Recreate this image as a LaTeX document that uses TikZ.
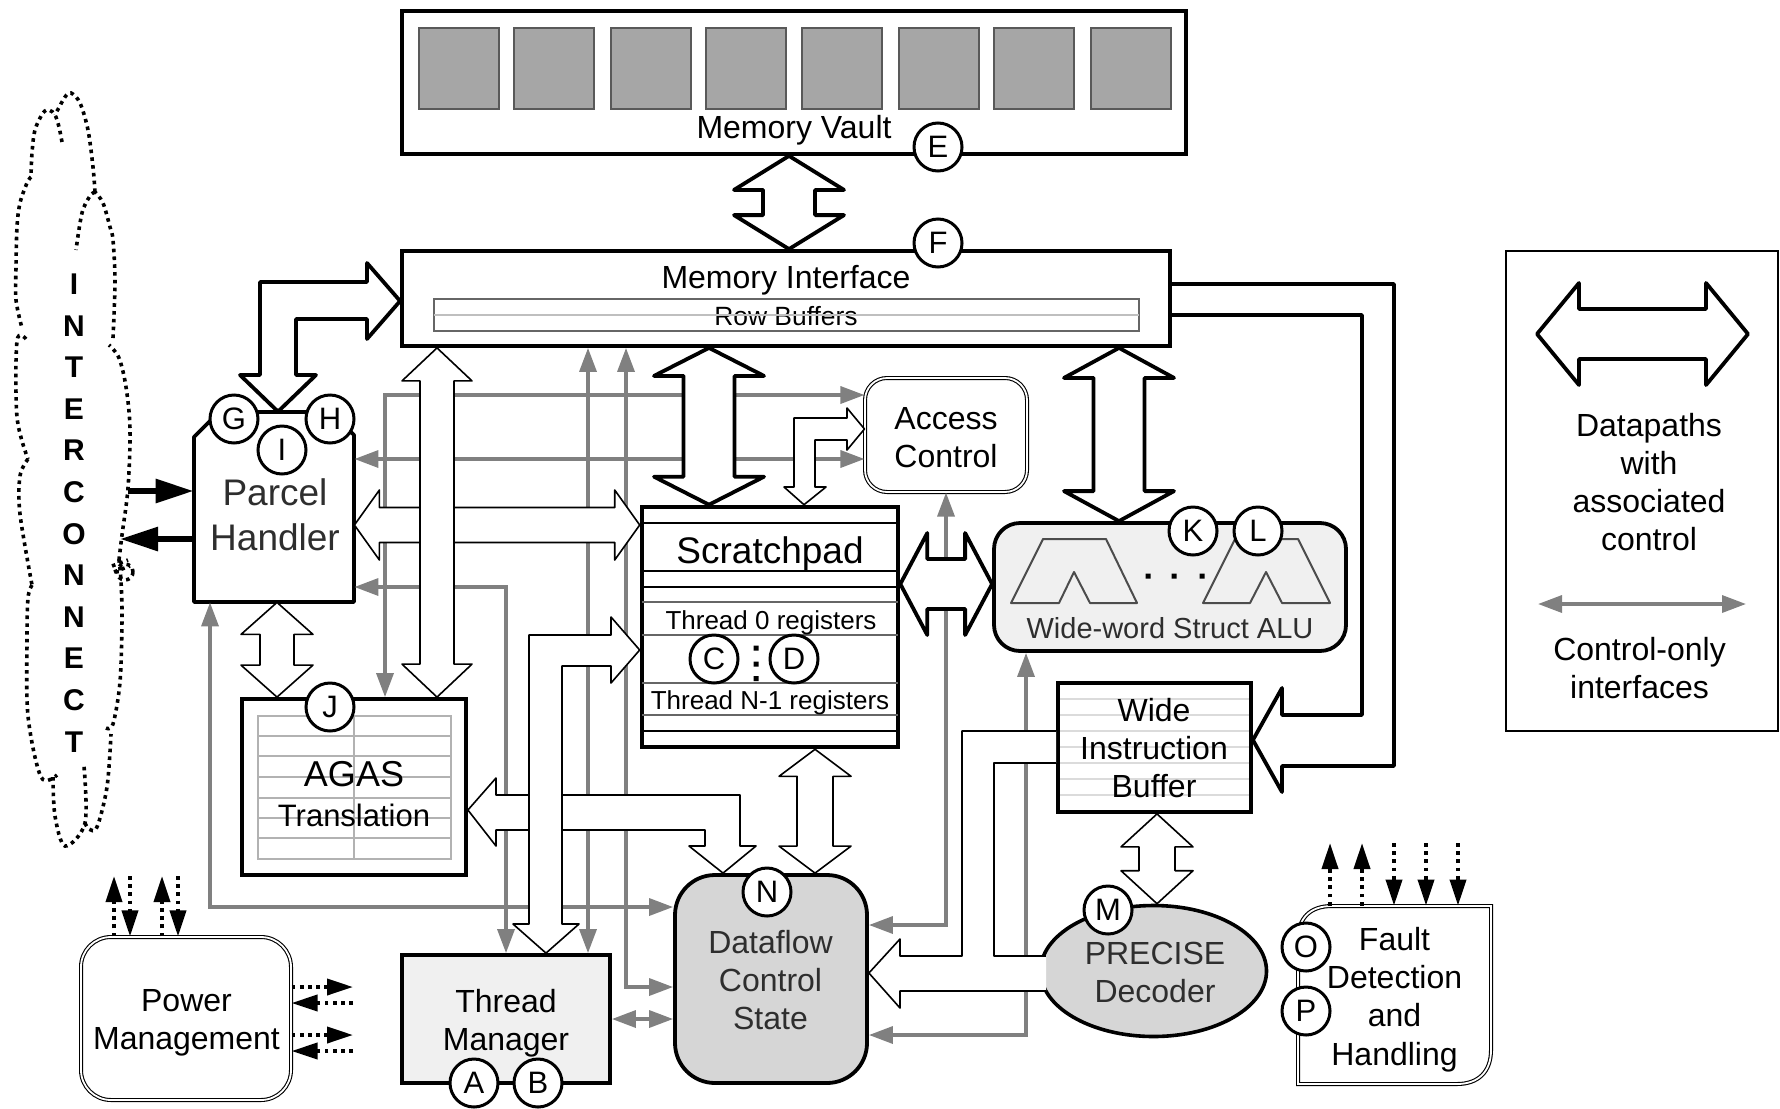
\documentclass[tikz,border=0pt]{standalone}
\usepackage{fontspec}
\setmainfont{Liberation Sans}
\usetikzlibrary{arrows.meta,calc,shapes.geometric}
\colorlet{ctlgray}{black!50}
\colorlet{dimtext}{black!82}
\newcommand\fs[2]{\fontsize{#1}{#2}\selectfont}
% box given by its corners in image pixels
\newcommand\boxat[7]{\node[#1,inner sep=0pt,align=center,minimum width={(#5-#3)*0.5pt},minimum height={(#6-#4)*0.5pt}] (#2) at ({(#3+#5)/2},{(#4+#6)/2}) {#7};}
% double headed fat arrows: style, centre line, first node anchor, second node anchor, half shaft, half head, head length
\newcommand\vdbl[7]{\coordinate (tA) at (#2,0 |- #3); \coordinate (tB) at (#2,0 |- #4);
 \draw[#1] (tA) -- ($(tA)+(#6,#7)$) -- ($(tA)+(#5,#7)$) -- ($(tB)+(#5,-#7)$) -- ($(tB)+(#6,-#7)$) -- (tB) -- ($(tB)+(-#6,-#7)$) -- ($(tB)+(-#5,-#7)$) -- ($(tA)+(-#5,#7)$) -- ($(tA)+(-#6,#7)$) -- cycle;}
\newcommand\hdbl[7]{\coordinate (tA) at (#3 |- 0,#2); \coordinate (tB) at (#4 |- 0,#2);
 \draw[#1] (tA) -- ($(tA)+(#7,-#6)$) -- ($(tA)+(#7,-#5)$) -- ($(tB)+(-#7,-#5)$) -- ($(tB)+(-#7,-#6)$) -- (tB) -- ($(tB)+(-#7,#6)$) -- ($(tB)+(-#7,#5)$) -- ($(tA)+(#7,#5)$) -- ($(tA)+(#7,#6)$) -- cycle;}
\tikzset{
 heavybox/.style={draw,line width=1.9pt},
 softbox/.style={draw,line width=.55pt,double=white,double distance=.9pt},
 tag/.style={circle,draw,fill=white,line width=1.5pt,minimum size=24pt,inner sep=0pt,font=\fs{15.5}{16}},
 fatthin/.style={draw,fill=white,line width=.8pt,line join=round},
 fatthick/.style={draw,fill=white,line width=1.9pt,line join=round},
 ctl/.style={draw=ctlgray,line width=1.7pt,{Triangle[length=12pt,width=8.5pt,fill=ctlgray]}-{Triangle[length=12pt,width=8.5pt,fill=ctlgray]}},
 ext/.style={line width=1.9pt,dash pattern=on 1.9pt off 2.2pt,-{Triangle[length=13pt,width=8pt]}},
 net/.style={line width=3pt,-{Triangle[length=19pt,width=11.5pt]}},
 cloud/.style={line width=1.8pt,dash pattern=on 1.8pt off 2.1pt},
 gridline/.style={draw=black!30,line width=.8pt},
 padline/.style={line width=.6pt},
 lbl/.style={inner sep=0pt,align=center},
}
\begin{document}
\begin{tikzpicture}[x=0.5pt,y=-0.5pt,font=\fs{16}{19}]
\useasboundingbox (0,0) rectangle (1780,1108);

% ---- grids that lie under the texts
\draw[draw=black!14,line width=.9pt] foreach \y in {699,715,731,747,763,779,795} {(1060,\y) -- (1249,\y)};
\draw[gridline] (258,716) rectangle (451,859);
\draw[gridline] foreach \y in {736,756,777,798,818,838} {(258,\y) -- (451,\y)};
\draw[gridline] (354,716) -- (354,859);

% ---- blocks
\boxat{heavybox}{vault}{402}{11}{1186}{154}{}
\foreach \x [count=\i] in {418,513,610,705,801,898,993,1090}
  \node[draw=black!65,fill=black!35,line width=.8pt,inner sep=0pt,minimum width=40pt,minimum height=40.5pt,anchor=north west] (v\i) at (\x,27) {};
\boxat{heavybox}{mem}{402}{251}{1170}{346}{}
\draw[draw=black!60,line width=1.1pt] (434,299) rectangle (1139,331);
\boxat{}{parcel}{194}{412}{354}{602}{}
\draw[line width=1.9pt,line join=round] (194,602) -- (194,437) -- (219,412) -- (330,412) -- (354,435) -- (354,602) -- cycle;
\boxat{heavybox}{agas}{242}{699}{466}{875}{}
\boxat{heavybox,line width=2.3pt}{scratch}{642}{507}{898}{747}{}
\draw[padline] (642,523) -- (898,523) (642,571) -- (898,571) (642,587) -- (898,587) (642,731) -- (898,731);
\draw[padline,draw=black!60,line width=.8pt] (642,602) -- (898,602);
\draw[padline,draw=black!60,line width=1.2pt] (642,635) -- (898,635) (642,683) -- (898,683) (642,715) -- (898,715);
\boxat{softbox,rounded corners=11pt}{access}{865}{378}{1027}{492}{}
\boxat{heavybox,fill=black!6,rounded corners=13pt}{alu}{994}{523}{1346}{651}{}
\draw[draw=black!70,line width=1pt,line join=round] (1011,603) -- (1043,539) -- (1106,539) -- (1137,603) -- (1090,603) -- (1074,572) -- (1059,603) -- cycle;
\draw[draw=black!70,line width=1pt,line join=round] (1203,603) -- (1235,539) -- (1298,539) -- (1330,603) -- (1282,603) -- (1266,572) -- (1250,603) -- cycle;
\fill (1145.5,573.5) rectangle (1150.5,578.5) (1171.5,573.5) rectangle (1176.5,578.5) (1199.5,573.5) rectangle (1204.5,578.5);
\boxat{heavybox}{wib}{1058}{683}{1251}{812}{}
\boxat{heavybox,fill=black!6}{thread}{402}{955}{610}{1083}{}
\boxat{softbox,rounded corners=15pt}{power}{81}{937}{291}{1100}{}
\boxat{heavybox,fill=black!16,rounded corners=20pt,text=dimtext}{dataflow}{675}{875}{867}{1083}{}
\node[draw,line width=1.8pt,fill=black!16,ellipse,inner sep=0pt,minimum width=113pt,minimum height=65.5pt] (decoder) at (1153.5,971) {};
\draw[softbox] (1298,1084) -- (1298,940) .. controls (1298,918) and (1310,906) .. (1332,906) -- (1491,906) -- (1491,1050) .. controls (1491,1072) and (1478,1084) .. (1457,1084) -- cycle;
\boxat{}{fault}{1298}{906}{1491}{1084}{}

% ---- control-only interfaces
\draw[ctl] (access.west |- 0,395) -- (385,395) -- (agas.north -| 385,0);
\draw[ctl] (parcel.east |- 0,459) -- (access.west |- 0,459);
\draw[ctl] (parcel.east |- 0,587) -- (506,587) -- (thread.north -| 506,0);
\draw[ctl] (mem.south -| 588,0) -- (thread.north -| 588,0);
\draw[ctl] (mem.south -| 626,0) -- (626,987) -- (dataflow.west |- 0,987);
\draw[ctl] (parcel.south -| 210,0) -- (210,907) -- (dataflow.west |- 0,907);
\draw[ctl] (thread.east |- 0,1019) -- (dataflow.west |- 0,1019);
\draw[ctl] (access.south) -- (946,925) -- (dataflow.east |- 0,925);
\draw[ctl] (alu.south -| 1026,0) -- (1026,1035) -- (dataflow.east |- 0,1035);

% ---- datapaths
\hdbl{fatthin}{525}{parcel.east}{scratch.west}{17.5}{35}{25}
\vdbl{fatthick}{789}{vault.south}{mem.north}{26}{55}{34}
\vdbl{fatthin}{277}{parcel.south}{agas.north}{17}{36}{32}
\vdbl{fatthick}{709}{mem.south}{scratch.north}{25.5}{55}{28}
\vdbl{fatthick}{1119}{mem.south}{alu.north}{25.5}{55}{30}
\vdbl{fatthin}{815}{scratch.south}{dataflow.north}{18}{36}{27}
\vdbl{fatthin}{1157}{wib.south}{decoder.north}{18}{36}{33}
\hdbl{fatthick}{584}{scratch.east}{alu.west}{25}{51}{27}
% Parcel Handler to Memory Interface
\coordinate (tipP) at (parcel.north -| 278,0);
\coordinate (tipM) at (mem.west |- 0,301);
\draw[fatthick] (tipP) -- (316,375) -- (296,375) -- (296,319) -- (367,319) -- (367,339) -- (tipM) -- (367,263) -- (367,282) -- (260,282) -- (260,375) -- (240,375) -- cycle;
% AGAS to Dataflow
\coordinate (tipA) at (agas.east |- 0,810);
\coordinate (tipD) at (dataflow.north -| 723,0);
\draw[fatthin] (tipA) -- (496,778) -- (496,795) -- (740,795) -- (740,846) -- (756,846) -- (tipD) -- (689,846) -- (705,846) -- (705,830) -- (496,830) -- (496,846) -- cycle;
% Mem-to-AGAS arrow passes over
\vdbl{fatthin}{437}{mem.south}{agas.north}{17}{35}{33}
% Thread Manager to Scratchpad
\coordinate (tipT) at (thread.north -| 546,0);
\coordinate (tipS) at (scratch.west |- 0,650);
\draw[fatthin] (tipT) -- (513,924) -- (529,924) -- (529,635) -- (611,635) -- (611,617) -- (tipS) -- (611,683) -- (611,666) -- (562,666) -- (562,924) -- (579,924) -- cycle;
% Scratchpad to Access Control
\coordinate (tipU) at (scratch.north -| 804,0);
\coordinate (tipC) at (access.west |- 0,429);
\draw[fatthin] (tipU) -- (826,487) -- (815,487) -- (815,440) -- (847,440) -- (847,450) -- (tipC) -- (847,408) -- (847,418) -- (794,418) -- (794,487) -- (784,487) -- cycle;
% Memory Interface to Wide Instruction Buffer
\coordinate (tipW) at (wib.east |- 0,740);
\draw[fatthick,fill=none] (mem.east |- 0,284) -- (1394,284) -- (1394,766) -- (1282,766) -- (1282,792) -- (tipW) -- (1282,688) -- (1282,715) -- (1362,715) -- (1362,315) -- (mem.east |- 0,315);
% Decoder and Buffer to Dataflow
\coordinate (tipF) at (dataflow.east |- 0,973);
\fill[white] (tipF) -- (900,939) -- (900,956) -- (962,956) -- (962,731) -- (wib.west |- 0,731) -- (wib.west |- 0,763) -- (994,763) -- (994,956) -- (1046,956) -- (1046,991) -- (900,991) -- (900,1008) -- cycle;
\draw[line width=.8pt,line join=round] (wib.west |- 0,731) -- (962,731) -- (962,956) -- (900,956) -- (900,939) -- (tipF) -- (900,1008) -- (900,991) -- (1046,991);
\draw[line width=.8pt,line join=round] (wib.west |- 0,763) -- (994,763) -- (994,956) -- (1046,956);

% ---- off-chip signals
\foreach \x in {114,162} \draw[ext] (power.north -| \x,0) -- (\x,876);
\foreach \x in {130,178} \draw[ext] (\x,876) -- (power.north -| \x,0);
\foreach \y in {987,1035} \draw[ext] (power.east |- 0,\y) -- (353,\y);
\foreach \y in {1003,1051} \draw[ext] (353,\y) -- (power.east |- 0,\y);
\foreach \x in {1330,1362} \draw[ext] (fault.north -| \x,0) -- (\x,843);
\foreach \x in {1394,1426,1458} \draw[ext] (\x,843) -- (fault.north -| \x,0);
\coordinate (netin) at (128,491);
\coordinate (netout) at (120,539);
\draw[net] (netin) -- (parcel.west |- netin);
\draw[net] (parcel.west |- netout) -- (netout);

% ---- interconnect cloud
\draw[cloud] plot[smooth,tension=.55] coordinates {(62,142) (59,127) (55,115) (49,110) (43,113) (35,130) (32,153) (31,177)};
\draw[cloud] plot[smooth,tension=.55] coordinates {(31,177) (27,183) (20,203) (17,227) (16,267) (16,300) (22,328)};
\draw[cloud] plot[smooth,tension=.55] coordinates {(26,339) (17,341) (17,417) (28,459)};
\draw[cloud] plot[smooth,tension=.55] coordinates {(28,459) (20,476) (20,514) (32,585)};
\draw[cloud] plot[smooth,tension=.55] coordinates {(32,585) (28,598) (27,640) (28,716) (41,777) (57,775)};
\draw[cloud] plot[smooth,tension=.55] coordinates {(53,777) (55,816) (65,846) (85,823) (84,766)};
\draw[cloud] plot[smooth,tension=.55] coordinates {(85,823) (89,829) (97,827) (107,787) (111,734)};
\draw[cloud] plot[smooth,tension=.55] coordinates {(106,728) (113,724) (120,682) (122,619) (121,581) (119,560)};
\draw[cloud] (125,572) circle[radius=8];
\draw[cloud] (112,566) -- (128,560) (114,572) -- (130,566);
\draw[cloud] plot[smooth,tension=.55] coordinates {(119,560) (122,535) (128,488) (130,429) (126,387) (119,358) (109,345)};
\draw[cloud] plot[smooth,tension=.55] coordinates {(113,338) (115,282) (113,240) (110,227) (103,203) (95,192)};
\draw[cloud] plot[smooth,tension=.55] coordinates {(95,192) (93,167) (88,130) (80,103) (71,93) (65,97) (55,115)};
\draw[cloud] plot[smooth,tension=.55] coordinates {(95,192) (90,196) (82,213) (76,250)};
\node[lbl,font=\bfseries\fs{15}{20.8}] (interconnect) at (74,513) {I\\N\\T\\E\\R\\C\\O\\N\\N\\E\\C\\T};

% ---- texts over the blocks
\node[lbl] (vaulttext) at (794,130.5) {Memory Vault};
\node[lbl] (memtext) at (786,280.5) {Memory Interface};
\node[lbl,font=\fs{13.2}{15}] (rowtext) at (786,316) {Row Buffers};
\draw[draw=black!25,line width=1pt] (434,315) -- (1139,315);
\node[lbl,font=\fs{18.5}{22.5},text=dimtext] (parceltext) at (275,515) {Parcel\\Handler};
\node[lbl,font=\fs{18}{20}] (agastext) at (354,774) {AGAS};
\node[lbl,font=\fs{15.5}{18}] (transtext) at (354,815) {Translation};
\node[lbl,font=\fs{18.5}{21}] (scratchtext) at (770,553.5) {Scratchpad};
\node[lbl,font=\fs{13}{15}] (t0text) at (771,623) {Thread 0 registers};
\node[lbl,font=\fs{13}{15}] (tntext) at (770,703) {Thread N-1 registers};
\node[lbl,font=\fs{14.5}{17},text=dimtext] (alutext) at (1170,628) {Wide-word Struct ALU};
\node[lbl] (accesstext) at (946,438) {Access\\Control};
\node[lbl] (wibtext) at (1154,748.5) {Wide\\Instruction\\Buffer};
\node[lbl] (threadtext) at (506,1023.5) {Thread\\Manager};
\node[lbl] (powertext) at (186.5,1023) {Power\\Management};
\node[lbl,text=dimtext] (flowtext) at (770.5,980) {Dataflow\\Control\\State};
\node[lbl,text=dimtext] (dectext) at (1155,972) {PRECISE\\Decoder};
\node[lbl,font=\fs{16}{19.2}] (faulttext) at (1394.5,999.5) {Fault\\Detection\\and\\Handling};
\fill (753.5,645.5) rectangle (758.5,650.5) (753.5,661.5) rectangle (758.5,666.5) (753.5,676) rectangle (758.5,681);

% ---- lettered tags
\node[tag] (E) at (938,147) {E};
\node[tag] (F) at (938,243) {F};
\node[tag] (G) at (234,419) {G};
\node[tag] (H) at (330,419) {H};
\node[tag] (I) at (282,450) {I};
\node[tag] (J) at (330,707) {J};
\node[tag] (C) at (714,659) {C};
\node[tag] (D) at (794,659) {D};
\node[tag] (K) at (1193,531) {K};
\node[tag] (L) at (1258,531) {L};
\node[tag] (M) at (1108,910) {M};
\node[tag] (N) at (767,892) {N};
\node[tag] (O) at (1306,947) {O};
\node[tag] (P) at (1306,1011) {P};
\node[tag] (A) at (474,1083) {A};
\node[tag] (B) at (538,1083) {B};

% ---- legend
\boxat{draw,line width=.6pt}{legend}{1506}{251}{1778}{731}{}
\coordinate (legA) at (1537,334);
\coordinate (legB) at (1748,334);
\hdbl{fatthick}{334}{legA}{legB}{25}{51}{42}
\coordinate (legC) at (1538,604);
\coordinate (legD) at (1746,604);
\draw[ctl] (legC) -- (legD);
\node[lbl] (legtextA) at (1649,482) {Datapaths\\with\\associated\\control};
\node[lbl] (legtextB) at (1639.5,668) {Control-only\\interfaces};
\end{tikzpicture}
\end{document}
